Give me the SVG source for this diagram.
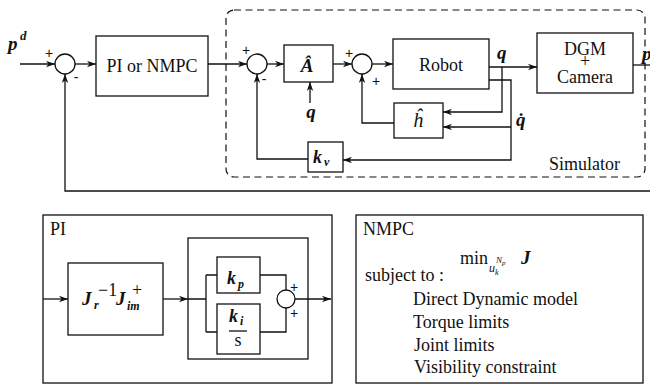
<svg xmlns="http://www.w3.org/2000/svg" width="650" height="385" viewBox="0 0 650 385">
  <style>
    .box { fill: none; stroke: #111; stroke-width: 1.3; }
    .sum { fill: #fff; stroke: #111; stroke-width: 1.3; }
    .wire { fill: none; stroke: #111; stroke-width: 1.3; }
    .dash { fill: none; stroke: #111; stroke-width: 1.2; stroke-dasharray: 7 4.5; }
    .t { font-family: "Liberation Serif", "Times New Roman", serif; font-size: 18px; fill: #111; }
    .m { font-family: "Liberation Serif", "Times New Roman", serif; font-style: italic; font-weight: bold; fill: #111; }
    .mi { font-family: "Liberation Serif", "Times New Roman", serif; font-style: italic; fill: #111; }
    .sg { font-family: "Liberation Sans", Arial, sans-serif; font-size: 14px; fill: #111; text-anchor: middle; }
    .c { text-anchor: middle; }
  </style>
  <defs>
    <marker id="arr" markerUnits="userSpaceOnUse" markerWidth="10" markerHeight="7" refX="9" refY="3.2" orient="auto">
      <path d="M0,0 L9,3.2 L0,6.4 L2.6,3.2 Z" fill="#111"/>
    </marker>
  </defs>

  <!-- simulator boundary -->
  <g id="simulator">
    <rect class="dash" x="226" y="10" width="419" height="167" rx="8"/>
    <text class="t" x="549" y="170">Simulator</text>
  </g>

  <!-- connectors -->
  <g id="connectors">
    <path class="wire" d="M20,64 H55" marker-end="url(#arr)"/>
    <path class="wire" d="M75,64 H96" marker-end="url(#arr)"/>
    <path class="wire" d="M208,64 H247" marker-end="url(#arr)"/>
    <path class="wire" d="M267,64 H284" marker-end="url(#arr)"/>
    <path class="wire" d="M333,64 H352" marker-end="url(#arr)"/>
    <path class="wire" d="M372,64 H393" marker-end="url(#arr)"/>
    <path class="wire" d="M489,67 H537" marker-end="url(#arr)"/>
    <path class="wire" d="M502,67 V112 H443" marker-end="url(#arr)"/>
    <path class="wire" d="M489,80 H511 V160 H343" marker-end="url(#arr)"/>
    <path class="wire" d="M511,127 H443" marker-end="url(#arr)"/>
    <path class="wire" d="M394,123 H362 V74" marker-end="url(#arr)"/>
    <path class="wire" d="M308,159 H257 V74" marker-end="url(#arr)"/>
    <path class="wire" d="M310,103 V82" marker-end="url(#arr)"/>
    <path class="wire" d="M633,65 H650"/>
    <path class="wire" d="M650,191 H65 V74" marker-end="url(#arr)"/>
  </g>

  <!-- reference input -->
  <g id="input">
    <text class="m" x="8" y="50" font-size="19">p</text>
    <text class="m" x="20" y="40" font-size="13">d</text>
  </g>

  <g id="sum1">
    <circle class="sum" cx="65" cy="64" r="10"/>
    <text class="sg" x="49" y="58">+</text>
    <text class="sg" x="76" y="82">-</text>
  </g>

  <g id="controller">
    <rect class="box" x="96" y="36" width="112" height="60"/>
    <text class="t c" x="152" y="72">PI or NMPC</text>
  </g>

  <g id="sum2">
    <circle class="sum" cx="257" cy="64" r="10"/>
    <text class="sg" x="246" y="55">+</text>
    <text class="sg" x="264" y="84">-</text>
  </g>

  <g id="inertia">
    <rect class="box" x="284" y="45" width="49" height="37"/>
    <text class="m c" x="307" y="72" font-size="19">Â</text>
  </g>

  <g id="q-in">
    <text class="m c" x="311" y="118" font-size="19">q</text>
  </g>

  <g id="sum3">
    <circle class="sum" cx="362" cy="64" r="10"/>
    <text class="sg" x="349" y="58">+</text>
    <text class="sg" x="376" y="86">+</text>
  </g>

  <g id="robot">
    <rect class="box" x="393" y="39" width="96" height="50"/>
    <text class="t c" x="441" y="71">Robot</text>
    <text class="m" x="497" y="59" font-size="19">q</text>
    <text class="m" x="516" y="126" font-size="19">q̇</text>
  </g>

  <g id="nonlinear">
    <rect class="box" x="394" y="103" width="49" height="35"/>
    <text class="mi c" x="418" y="127" font-size="20">ĥ</text>
  </g>

  <g id="damping">
    <rect class="box" x="308" y="142" width="35" height="30"/>
    <text class="m" x="313" y="163" font-size="18">k</text>
    <text class="m" x="324" y="166" font-size="12">v</text>
  </g>

  <g id="camera">
    <rect class="box" x="537" y="33" width="96" height="60"/>
    <text class="t c" x="585" y="55">DGM</text>
    <text class="t c" x="585" y="67" font-size="13">+</text>
    <text class="t c" x="585" y="83">Camera</text>
    <text class="m" x="642" y="60" font-size="19">p</text>
  </g>

  <!-- PI detail -->
  <g id="pi-detail">
    <rect class="box" x="43" y="215" width="289" height="168"/>
    <text class="t" x="50" y="235">PI</text>
    <path class="wire" d="M43,299 H68" marker-end="url(#arr)"/>
    <rect class="box" x="68" y="263" width="95" height="72"/>
    <text class="m" x="82" y="305" font-size="19">J</text>
    <text class="m" x="94" y="309" font-size="12">r</text>
    <text class="t" x="98" y="296" font-size="12">−1</text>
    <text class="m" x="116" y="305" font-size="19">J</text>
    <text class="m" x="127" y="310" font-size="12">im</text>
    <text class="t" x="132" y="296" font-size="13">+</text>
    <path class="wire" d="M163,299 H188" marker-end="url(#arr)"/>
    <rect class="box" x="188" y="238" width="120" height="121"/>
    <path class="wire" d="M188,299 H206 M206,275 V332 M206,275 H217 M206,332 H217"/>
    <rect class="box" x="217" y="257" width="43" height="36"/>
    <text class="m" x="227" y="284" font-size="18">k</text>
    <text class="m" x="238" y="288" font-size="12">p</text>
    <rect class="box" x="217" y="304" width="43" height="50"/>
    <text class="m" x="229" y="322" font-size="18">k</text>
    <text class="m" x="240" y="325" font-size="12">i</text>
    <path class="wire" d="M229,331 H247"/>
    <text class="t c" x="238" y="346" font-size="16">s</text>
    <path class="wire" d="M260,275 H286 V290 M260,332 H286 V308"/>
    <circle class="sum" cx="286" cy="299" r="9"/>
    <text class="sg" x="294" y="292">+</text>
    <text class="sg" x="294" y="318">+</text>
    <path class="wire" d="M295,299 H331" marker-end="url(#arr)"/>
  </g>

  <!-- NMPC detail -->
  <g id="nmpc-detail">
    <rect class="box" x="356" y="215" width="287" height="168"/>
    <text class="t" x="363" y="235">NMPC</text>
    <text class="t" x="460" y="264">min</text>
    <text class="mi" x="489" y="272" font-size="12">u</text>
    <text class="mi" x="495" y="275" font-size="8">k</text>
    <text class="mi" x="496" y="263" font-size="9">N</text>
    <text class="mi" x="502" y="265" font-size="7">p</text>
    <text class="m" x="521" y="264" font-size="19">J</text>
    <text class="t" x="365" y="281">subject to :</text>
    <text class="t" x="413" y="305">Direct Dynamic model</text>
    <text class="t" x="413" y="328">Torque limits</text>
    <text class="t" x="414" y="351">Joint limits</text>
    <text class="t" x="414" y="373">Visibility constraint</text>
  </g>
</svg>
